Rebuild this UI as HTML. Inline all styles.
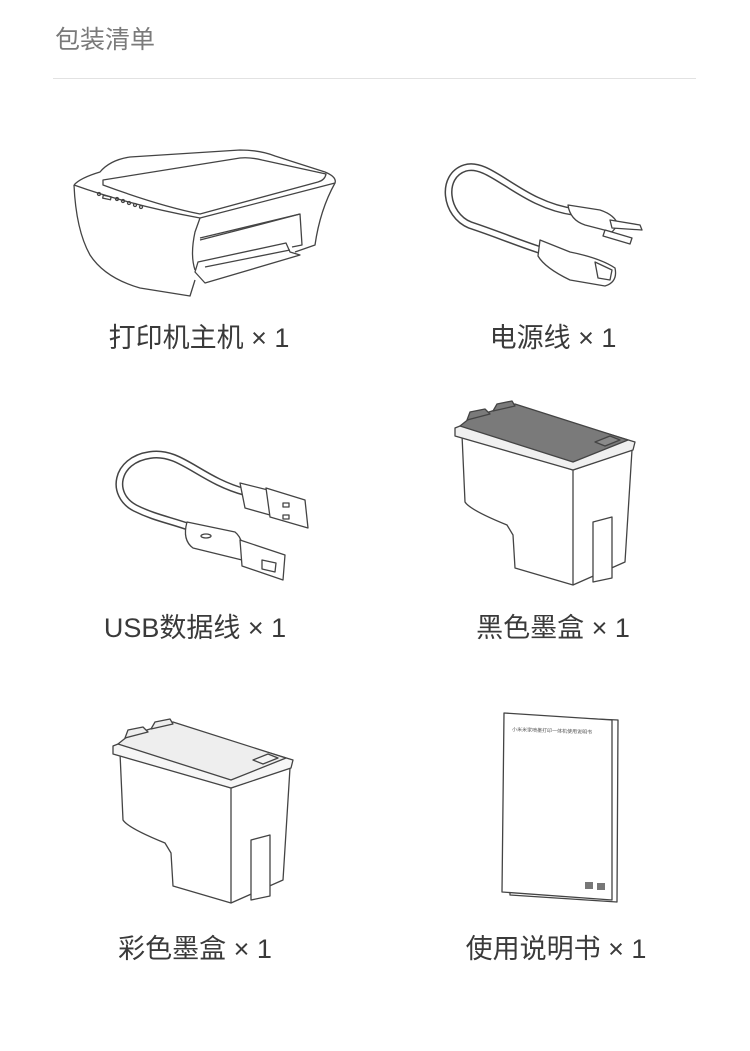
<!DOCTYPE html>
<html><head><meta charset="utf-8"><style>
html,body{margin:0;padding:0;background:#fff;}
svg{display:block}
text{font-family:"Liberation Sans","Noto Sans CJK SC",sans-serif;}
</style></head><body>
<svg width="750" height="1051" viewBox="0 0 750 1051" xmlns="http://www.w3.org/2000/svg">
<text x="55" y="48" font-size="25" fill="#7a7a7a">包装清单</text>
<line x1="53" y1="78.5" x2="696" y2="78.5" stroke="#e2e2e2" stroke-width="1"/>

<g fill="none" stroke="#444" stroke-width="1.3" stroke-linejoin="round">
<path d="M74,185 Q80,178 100,172 Q110,160 130,157 L240,150 Q260,150 275,156 L325,172 Q337,177 335,183 Q320,210 315,245 L295,252"/>
<path d="M74,185 Q76,230 90,255 Q105,278 140,288 L190,296 L195,280"/>
<path d="M74,185 Q130,205 200,218 Q270,200 335,183"/>
<path d="M103,180 L240,158 Q250,157 262,160 L326,174 Q325,180 318,182 L200,214 Q160,206 103,185 Z"/>
<path d="M200,218 L195,232 Q190,255 195,270"/>
<path d="M200,238 L300,214 L302,245 L292,247"/>
<path d="M200,240 L262,224 L300,214"/>
<path d="M198,262 L286,243 L290,252 L300,255 L205,283 L195,272 Z"/>
<path d="M205,267 L290,250"/>
<rect x="103" y="196" width="8" height="3" transform="rotate(12 107 197)"/>
<circle cx="99" cy="194" r="1.5"/><circle cx="117" cy="199" r="1.5"/><circle cx="123" cy="201" r="1.5"/><circle cx="129" cy="203" r="1.5"/><circle cx="135" cy="205" r="1.5"/><circle cx="141" cy="207" r="1.5"/>
</g>

<g fill="none" stroke-linecap="round">
<path d="M575,212 C520,205 490,160 465,168 C440,176 445,215 470,225 C500,235 510,240 540,250" stroke="#444" stroke-width="8"/>
<path d="M575,212 C520,205 490,160 465,168 C440,176 445,215 470,225 C500,235 510,240 540,250" stroke="#fff" stroke-width="5"/>
</g>
<g fill="#fff" stroke="#444" stroke-width="1.3" stroke-linejoin="round">
<path d="M568,205 L600,210 Q615,215 618,225 L612,232 L585,225 Q570,220 568,205 Z"/>
<path d="M610,220 L640,225 L642,230 L612,228 Z"/>
<path d="M605,230 L632,238 L630,244 L603,236 Z"/>
<path d="M540,240 L570,252 Q600,258 615,268 Q618,282 605,286 L570,280 Q545,268 538,256 Z"/>
<path d="M595,262 L612,270 L610,280 L598,278 Z"/>
</g>

<g fill="none" stroke-linecap="round">
<path d="M245,492 C200,480 180,450 150,455 C115,460 110,495 135,508 C155,518 170,520 192,528" stroke="#444" stroke-width="8"/>
<path d="M245,492 C200,480 180,450 150,455 C115,460 110,495 135,508 C155,518 170,520 192,528" stroke="#fff" stroke-width="5"/>
</g>
<g fill="#fff" stroke="#444" stroke-width="1.3" stroke-linejoin="round">
<path d="M240,483 L268,490 L270,515 L245,508 Z"/>
<path d="M266,488 L305,500 L308,528 L270,517 Z"/>
<rect x="283" y="503" width="6" height="4"/><rect x="283" y="515" width="6" height="4"/>
<path d="M187,522 L235,532 Q245,540 242,560 L193,548 Q182,540 187,522 Z"/>
<path d="M240,540 L285,555 L283,580 L242,566 Z"/>
<path d="M262,560 L276,563 L275,572 L262,569 Z"/>
<ellipse cx="206" cy="536" rx="5" ry="2"/>
</g>

<g stroke="#444" stroke-width="1.3" stroke-linejoin="round" fill="#fff">
<path d="M462,435 L465,502 Q470,510 507,525 L513,535 L515,568 L573,585 L625,562 L632,450 L573,470 Z"/>
<path d="M573,470 L573,585"/>
<path d="M593,522 L612,517 L612,578 L593,582 Z"/>
<path d="M455,428 L513,405 L635,442 L633,450 L573,470 L455,436 Z" fill="#f0f0f0"/>
<path d="M460,426 L470,418 L492,411 L515,404 L628,440 L573,462 Z" fill="#7a7a7a"/>
<path d="M467,420 L470,412 L485,409 L490,414 Z" fill="#7a7a7a"/>
<path d="M493,411 L497,404 L512,401 L515,406 Z" fill="#7a7a7a"/>
<path d="M595,442 L610,436 L620,440 L605,446 Z" fill="#8a8a8a"/>
</g>
<g transform="translate(-342,318)" stroke="#444" stroke-width="1.3" stroke-linejoin="round" fill="#fff">
<path d="M462,435 L465,502 Q470,510 507,525 L513,535 L515,568 L573,585 L625,562 L632,450 L573,470 Z"/>
<path d="M573,470 L573,585"/>
<path d="M593,522 L612,517 L612,578 L593,582 Z"/>
<path d="M455,428 L513,405 L635,442 L633,450 L573,470 L455,436 Z" fill="#f6f6f6"/>
<path d="M460,426 L470,418 L492,411 L515,404 L628,440 L573,462 Z" fill="#eeeeee"/>
<path d="M467,420 L470,412 L485,409 L490,414 Z" fill="#eee"/>
<path d="M493,411 L497,404 L512,401 L515,406 Z" fill="#eee"/>
<path d="M595,442 L610,436 L620,440 L605,446 Z" fill="#f4f4f4"/>
</g>

<g stroke="#444" stroke-width="1.3" fill="#fff" stroke-linejoin="round">
<path d="M508,715 L618,720 L617,902 L510,895 Z"/>
<path d="M504,713 L612,720 L612,900 L502,892 Z"/>
</g>
<text x="512" y="731" font-size="5" fill="#555" transform="rotate(2 512 731)">小米米家喷墨打印一体机使用说明书</text>
<rect x="585" y="882" width="8" height="7" fill="#777"/>
<rect x="597" y="883" width="8" height="7" fill="#777"/>

<g font-size="27" fill="#3a3a3a" text-anchor="middle">
<text x="199" y="347">打印机主机 × 1</text>
<text x="553" y="347">电源线 × 1</text>
<text x="195" y="637">USB数据线 × 1</text>
<text x="553" y="637">黑色墨盒 × 1</text>
<text x="195" y="958">彩色墨盒 × 1</text>
<text x="556" y="958">使用说明书 × 1</text>
</g>
</svg>
</body></html>
